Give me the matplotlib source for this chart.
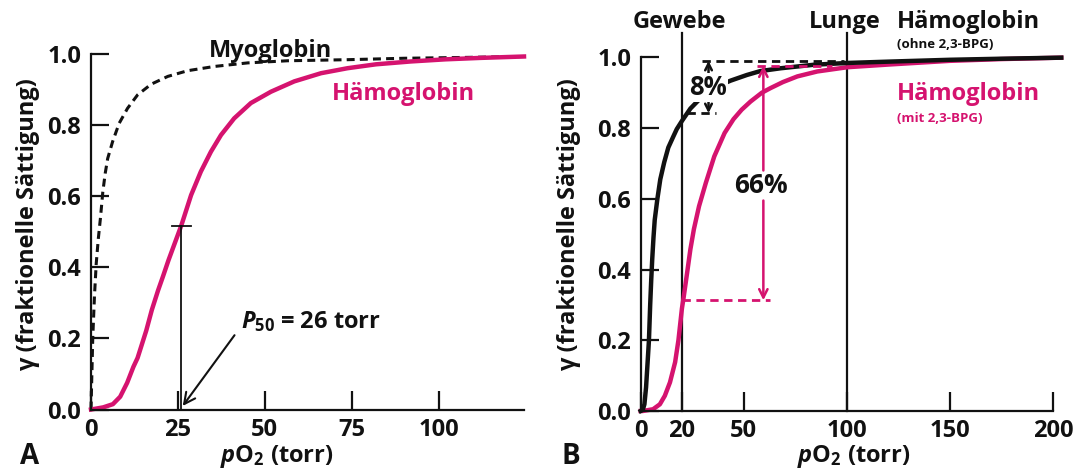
import matplotlib
matplotlib.use("Agg")
import matplotlib.pyplot as plt

# ---- data ----
# panel A: myoglobin vs hemoglobin
mb_x = [0, 0.25, 0.5, 1.0, 1.5, 2.1, 2.7, 3.4, 4.1, 4.8, 6.2, 8.1, 10.5, 13.4, 17.3,
        22.1, 27.8, 35.5, 45.1, 56.6, 73.8, 90, 105, 124.6]
mb_y = [0, 0.1, 0.2, 0.32, 0.41, 0.48, 0.537, 0.612, 0.665, 0.706, 0.753, 0.805, 0.847,
        0.885, 0.915, 0.937, 0.953, 0.965, 0.975, 0.981, 0.984, 0.988, 0.99, 0.993]

hb_x = [0, 3.5, 6.3, 8.4, 10.4, 12.2, 13.4, 15.9, 17.5, 19.3, 20.7, 22.3, 26, 28.8,
        31.6, 34.5, 37.4, 41.2, 46, 51.8, 58.5, 66.2, 73.8, 82, 92, 102, 112, 124.6]
hb_y = [0, 0.006, 0.015, 0.036, 0.075, 0.12, 0.145, 0.222, 0.28, 0.335, 0.374, 0.42,
        0.518, 0.603, 0.669, 0.725, 0.772, 0.819, 0.862, 0.894, 0.923, 0.946, 0.96,
        0.971, 0.979, 0.985, 0.989, 0.993]
p50 = 26

# panel B: hemoglobin without / with 2,3-BPG
b0_x = [0, 1.0, 1.8, 2.6, 3.5, 4.0, 4.6, 5.1, 5.6, 6.2, 6.8, 8.1, 9.5, 11.4, 13.4,
        15.9, 17.5, 20, 24.1, 28.3, 33, 38, 43.6, 51.5, 58, 67.9, 84.1, 100.3, 121.5,
        150, 175, 204]
b0_y = [0, 0.003, 0.019, 0.067, 0.152, 0.2, 0.3, 0.37, 0.43, 0.49, 0.54, 0.6, 0.655,
        0.703, 0.745, 0.777, 0.797, 0.82, 0.855, 0.88, 0.903, 0.92, 0.934, 0.95, 0.961,
        0.969, 0.979, 0.984, 0.988, 0.993, 0.996, 0.999]

b1_x = [0, 1, 6, 9.3, 11.7, 14.2, 16.7, 18.3, 20, 20.8, 22.5, 24.1, 25.8, 28.3, 31.6,
        35.7, 40.7, 45, 49, 53.3, 58.8, 63, 69, 76, 85.7, 100.3, 121.5, 150, 175, 204]
b1_y = [0, 0, 0.005, 0.019, 0.043, 0.081, 0.138, 0.2, 0.29, 0.32, 0.39, 0.457, 0.514,
        0.579, 0.645, 0.72, 0.786, 0.825, 0.852, 0.875, 0.9, 0.913, 0.93, 0.946, 0.96,
        0.972, 0.98, 0.99, 0.995, 0.999]

tissue, lung = 20, 100
sat_tissue_0, sat_top_0 = 0.842, 0.99      # 8 %
sat_tissue_1, sat_top_1 = 0.313, 0.976     # 66 %

yticks = [0.0, 0.2, 0.4, 0.6, 0.8, 1.0]
ytick_labels = ["0.0", "0.2", "0.4", "0.6", "0.8", "1.0"]
xticks_a = [0, 25, 50, 75, 100]
xticks_b = [0, 20, 50, 100, 150, 200]

MAG = "#D5136F"
BLK = "#111111"

plt.rcParams["font.family"] = ["Open Sans", "DejaVu Sans"]
plt.rcParams["font.weight"] = "bold"
plt.rcParams["mathtext.fontset"] = "custom"
plt.rcParams["mathtext.rm"] = "Open Sans:bold"
plt.rcParams["mathtext.it"] = "Open Sans:italic:bold"
plt.rcParams["mathtext.bf"] = "Open Sans:bold"

fig = plt.figure(figsize=(10.84, 4.70), dpi=100)
axA = fig.add_axes([0.08395, 0.12872, 0.39945, 0.75638])
axB = fig.add_axes([0.59105, 0.12553, 0.38035, 0.75255])


def style(ax, xmax, xticks):
    ax.set_xlim(0, xmax)
    ax.set_ylim(0, 1)
    for s in ["top", "right"]:
        ax.spines[s].set_visible(False)
    for s in ["left", "bottom"]:
        ax.spines[s].set_linewidth(1.6)
        ax.spines[s].set_color(BLK)
    ax.set_yticks(yticks)
    ax.set_yticklabels(ytick_labels)
    ax.set_xticks(xticks)
    ax.set_xticklabels([str(t) for t in xticks])
    ax.tick_params(axis="y", direction="in", length=13, width=1.6, labelsize=17,
                   pad=7, color=BLK, labelcolor=BLK)
    ax.tick_params(axis="x", direction="in", length=14, width=1.6, labelsize=17,
                   pad=6, color=BLK, labelcolor=BLK)
    for lab in ax.get_xticklabels() + ax.get_yticklabels():
        lab.set_fontweight("bold")


style(axA, 124.6, xticks_a)
style(axB, 200, xticks_b)

# ---- panel A ----
axA.plot(mb_x, mb_y, color=BLK, lw=2.2, dashes=(2.6, 1.7), clip_on=False)
axA.plot(hb_x, hb_y, color=MAG, lw=3.2, clip_on=False, solid_joinstyle="round")
axA.plot([p50, p50], [0, 0.517], color=BLK, lw=1.3)
axA.plot([23.2, 28.7], [0.517, 0.517], color=BLK, lw=1.3)
axA.annotate("", xy=(26.4, 0.01), xytext=(41.3, 0.209),
             arrowprops=dict(arrowstyle="->", lw=1.5, color=BLK, mutation_scale=20,
                             shrinkA=0, shrinkB=0))
axA.text(43.3, 0.229, r"$P_{50}$ = 26 torr", fontsize=17, fontweight="bold",
         color=BLK, ha="left", va="baseline")
axA.text(51.7, 0.992, "Myoglobin", fontsize=17, fontweight="bold", color=BLK,
         ha="center", va="baseline")
axA.text(90, 0.871, "Hämoglobin", fontsize=17, fontweight="bold", color=MAG,
         ha="center", va="baseline")

# ---- panel B ----
for xv in (tissue, lung):
    axB.plot([xv, xv], [0, 1.069], color=BLK, lw=1.6, clip_on=False)
axB.plot(b1_x, b1_y, color=MAG, lw=3.2, clip_on=False, solid_joinstyle="round")
axB.plot(b0_x, b0_y, color=BLK, lw=3.2, clip_on=False, solid_joinstyle="round")

# dashed guide lines
axB.plot([29.8, 98.8], [sat_top_0, sat_top_0], color=BLK, lw=2, dashes=(3, 2))
axB.plot([22.5, 36.5], [sat_tissue_0, sat_tissue_0], color=BLK, lw=2, dashes=(3, 2))
axB.plot([56.5, 93], [sat_top_1, sat_top_1], color=MAG, lw=2, dashes=(3, 2))
axB.plot([tissue, 62.6], [sat_tissue_1, sat_tissue_1], color=MAG, lw=2, dashes=(3, 2))

# 8 % arrows
arr = dict(arrowstyle="->", lw=1.8, color=BLK, mutation_scale=12, shrinkA=0, shrinkB=0)
axB.annotate("", xy=(32.9, sat_top_0), xytext=(32.9, 0.946), arrowprops=arr)
axB.annotate("", xy=(32.9, sat_tissue_0), xytext=(32.9, 0.88), arrowprops=arr)
axB.text(32.5, 0.893, "8%", fontsize=18.5, fontweight="bold", color=BLK,
         ha="center", va="baseline", zorder=5,
         bbox=dict(boxstyle="square,pad=0.05", fc="white", ec="none"))

# 66 % arrows
arr_m = dict(arrowstyle="->", lw=1.8, color=MAG, mutation_scale=15, shrinkA=0, shrinkB=0)
axB.annotate("", xy=(59.5, sat_top_1), xytext=(59.5, 0.68), arrowprops=arr_m)
axB.annotate("", xy=(59.5, sat_tissue_1), xytext=(59.5, 0.595), arrowprops=arr_m)
axB.text(58.3, 0.615, "66%", fontsize=19, fontweight="bold", color=BLK,
         ha="center", va="baseline")

axB.text(18.8, 1.082, "Gewebe", fontsize=17, fontweight="bold", color=BLK,
         ha="center", va="baseline")
axB.text(99.1, 1.082, "Lunge", fontsize=17, fontweight="bold", color=BLK,
         ha="center", va="baseline")
axB.text(124.3, 1.082, "Hämoglobin", fontsize=17, fontweight="bold", color=BLK,
         ha="left", va="baseline")
axB.text(124.3, 1.025, "(ohne 2,3-BPG)", fontsize=9.5, fontweight="bold", color=BLK,
         ha="left", va="baseline")
axB.text(124.3, 0.879, "Hämoglobin", fontsize=17, fontweight="bold", color=MAG,
         ha="left", va="baseline")
axB.text(124.3, 0.818, "(mit 2,3-BPG)", fontsize=9.5, fontweight="bold", color=MAG,
         ha="left", va="baseline")

# ---- axis labels and panel letters ----
ylab = "γ (fraktionelle Sättigung)"
fig.text(27.6 / 1084, 1 - 225 / 470, ylab, rotation=90, fontsize=17,
         fontweight="bold", color=BLK, ha="center", va="center")
fig.text(569.4 / 1084, 1 - 225 / 470, ylab, rotation=90, fontsize=17,
         fontweight="bold", color=BLK, ha="center", va="center")
xlab = r"$p\mathrm{O}_2$ (torr)"
fig.text(277 / 1084, 1 - 462 / 470, xlab, fontsize=17, fontweight="bold",
         color=BLK, ha="center", va="baseline")
fig.text(854 / 1084, 1 - 461.5 / 470, xlab, fontsize=17, fontweight="bold",
         color=BLK, ha="center", va="baseline")
fig.text(19.6 / 1084, 1 - 464 / 470, "A", fontsize=20, fontweight="bold",
         color=BLK, ha="left", va="baseline")
fig.text(561 / 1084, 1 - 464 / 470, "B", fontsize=20, fontweight="bold",
         color=BLK, ha="left", va="baseline")

fig.savefig("out.png", dpi=100, facecolor="white")
